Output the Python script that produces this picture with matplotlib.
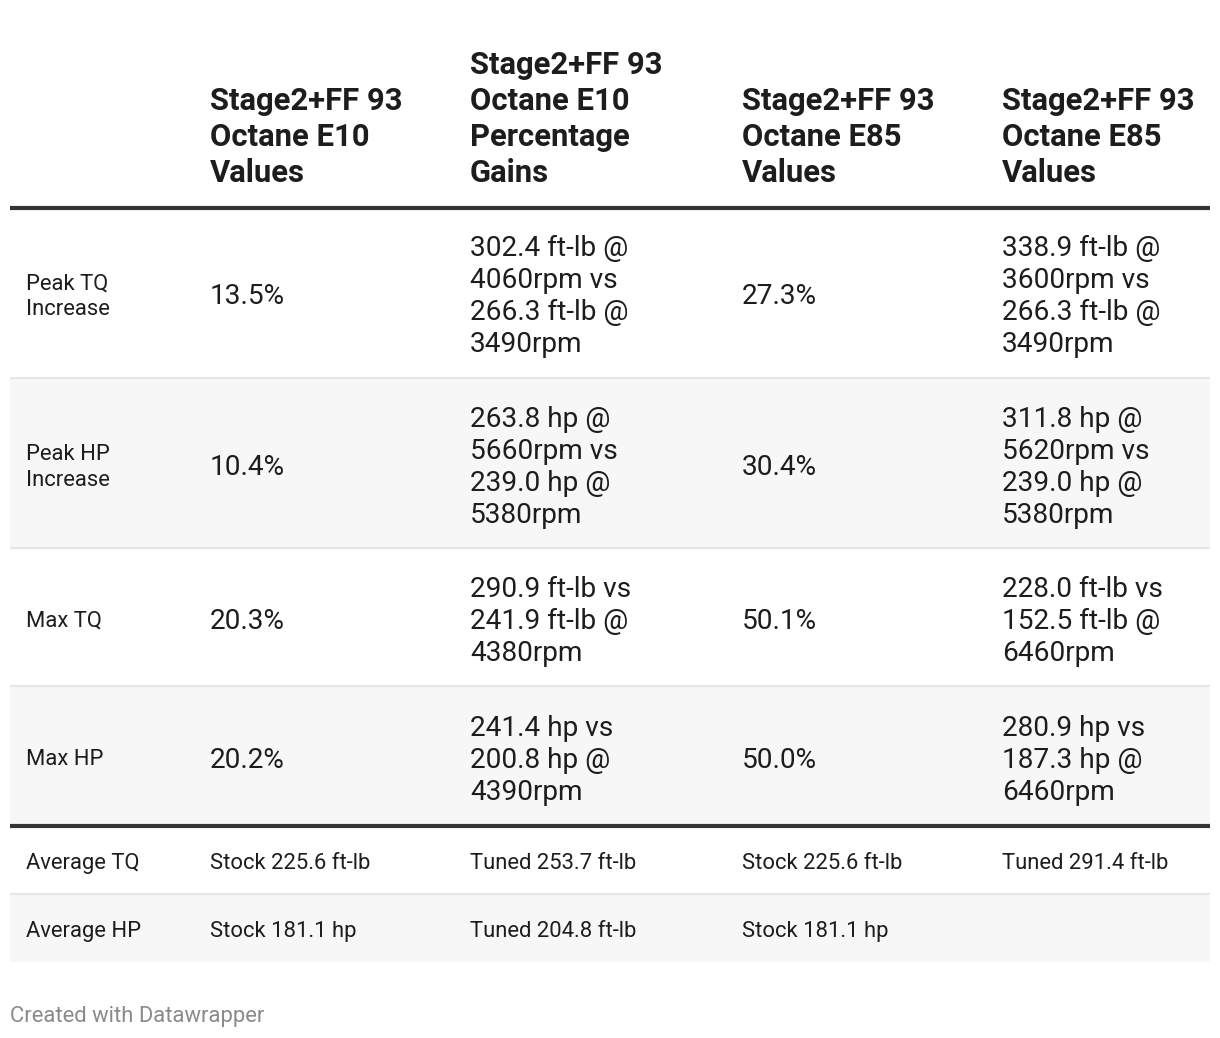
import matplotlib
matplotlib.use("Agg")
import matplotlib.pyplot as plt
from matplotlib.patches import Rectangle

# ---- data ----
col_headers = [
    "Stage2+FF 93\nOctane E10\nValues",
    "Stage2+FF 93\nOctane E10\nPercentage\nGains",
    "Stage2+FF 93\nOctane E85\nValues",
    "Stage2+FF 93\nOctane E85\nValues",
]
row_labels = ["Peak TQ\nIncrease", "Peak HP\nIncrease", "Max TQ", "Max HP"]
col1_values = ["13.5%", "10.4%", "20.3%", "20.2%"]
col2_values = [
    "302.4 ft-lb @\n4060rpm vs\n266.3 ft-lb @\n3490rpm",
    "263.8 hp @\n5660rpm vs\n239.0 hp @\n5380rpm",
    "290.9 ft-lb vs\n241.9 ft-lb @\n4380rpm",
    "241.4 hp vs\n200.8 hp @\n4390rpm",
]
col3_values = ["27.3%", "30.4%", "50.1%", "50.0%"]
col4_values = [
    "338.9 ft-lb @\n3600rpm vs\n266.3 ft-lb @\n3490rpm",
    "311.8 hp @\n5620rpm vs\n239.0 hp @\n5380rpm",
    "228.0 ft-lb vs\n152.5 ft-lb @\n6460rpm",
    "280.9 hp vs\n187.3 hp @\n6460rpm",
]
footer_labels = ["Average TQ", "Average HP"]
footer_values = [
    ["Stock 225.6 ft-lb", "Tuned 253.7 ft-lb", "Stock 225.6 ft-lb", "Tuned 291.4 ft-lb"],
    ["Stock 181.1 hp", "Tuned 204.8 ft-lb", "Stock 181.1 hp", ""],
]
credit = "Created with Datawrapper"

# ---- layout ----
W, H = 1220, 1038
fig = plt.figure(figsize=(W / 100, H / 100), dpi=100)
ax = fig.add_axes([0, 0, 1, 1])
ax.set_xlim(0, W)
ax.set_ylim(H, 0)
ax.axis("off")

FONT = ["Roboto", "DejaVu Sans"]
TXT = "#1d1d1d"
SHADE = "#f7f7f7"
SEP = "#e6e6e6"
DARK = "#333333"
px = 0.72  # px -> pt

left, right = 10, 1210
col_x = [26, 210, 470, 742, 1002]
body_bounds = [208, 379, 549, 687, 826]
foot_bounds = [826, 894, 962]


def draw_lines(x, center, text, size_px, spacing, cap, weight="normal", color=TXT):
    lines = text.split("\n")
    n = len(lines)
    first = center - (n - 1) * spacing / 2 + cap / 2
    for i, ln in enumerate(lines):
        ax.text(x, first + i * spacing, ln, fontsize=size_px * px, family=FONT,
                fontweight=weight, color=color, va="baseline", ha="left")


# header (bottom-aligned)
for j, h in enumerate(col_headers):
    lines = h.split("\n")
    n = len(lines)
    for i, ln in enumerate(lines):
        y = 182 - (n - 1 - i) * 36
        ax.text(col_x[j + 1], y, ln, fontsize=31 * px, family=FONT,
                fontweight="bold", color=TXT, va="baseline", ha="left")

# body rows
cols = [col1_values, col2_values, col3_values, col4_values]
for r in range(len(row_labels)):
    top, bot = body_bounds[r], body_bounds[r + 1]
    if r % 2 == 1:
        ax.add_patch(Rectangle((left, top), right - left, bot - top, color=SHADE, zorder=0, lw=0))
    c = (top + bot) / 2 + 1
    draw_lines(col_x[0], c, row_labels[r], 22, 26, 15.6)
    for j, colv in enumerate(cols):
        draw_lines(col_x[j + 1], c, colv[r], 28, 32, 20)
    if r < len(row_labels) - 1:
        ax.plot([left, right], [bot - 1, bot - 1], color=SEP, lw=1.5, solid_capstyle="butt", zorder=1)

# footer rows
for r in range(len(footer_labels)):
    top, bot = foot_bounds[r], foot_bounds[r + 1]
    if r % 2 == 1:
        ax.add_patch(Rectangle((left, top), right - left, bot - top, color=SHADE, zorder=0, lw=0))
    c = (top + bot) / 2 + 1
    draw_lines(col_x[0], c, footer_labels[r], 22, 26, 15.6)
    for j in range(4):
        if footer_values[r][j]:
            draw_lines(col_x[j + 1], c, footer_values[r][j], 22, 26, 15.6)
    if r < len(footer_labels) - 1:
        ax.plot([left, right], [bot, bot], color=SEP, lw=1.5, solid_capstyle="butt", zorder=1)

# thick rules
for y in (208, 826):
    ax.plot([left, right], [y, y], color=DARK, lw=3, solid_capstyle="butt", zorder=2)

ax.text(10, 1022, credit, fontsize=22 * px, family=FONT, color="#8a8a8a", va="baseline", ha="left")

fig.savefig("out.png", dpi=100)
